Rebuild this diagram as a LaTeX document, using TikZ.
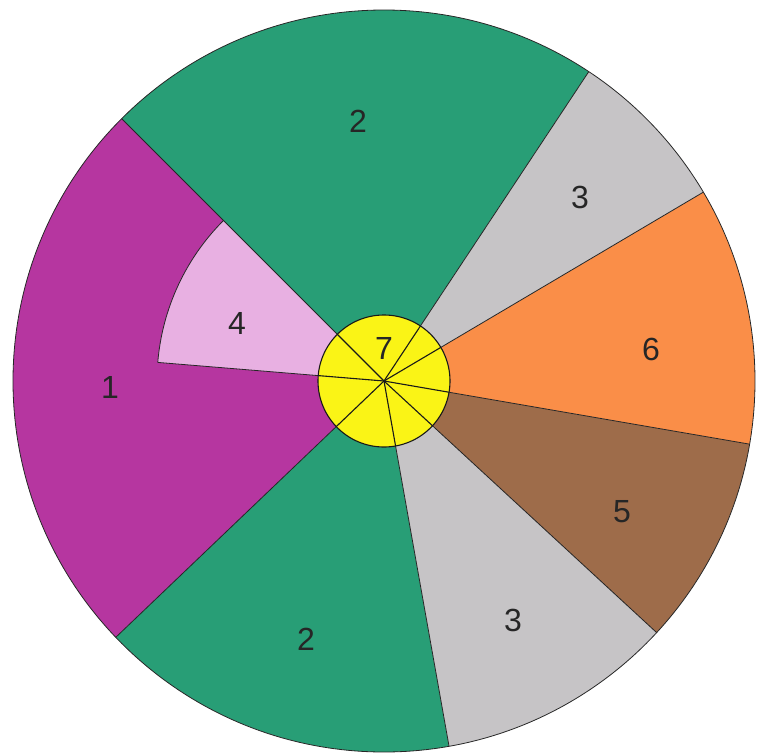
\documentclass[tikz,border=0pt]{standalone}
\usepackage{fontspec}
\setmainfont{Liberation Sans}
\usepackage{tikz}
\usetikzlibrary{positioning, calc}

\definecolor{pieviolet}{RGB}{182,54,160}
\definecolor{piegreen}{RGB}{40,158,118}
\definecolor{piegray}{RGB}{198,196,198}
\definecolor{pieorange}{RGB}{250,142,72}
\definecolor{piebrown}{RGB}{158,108,74}
\definecolor{piepink}{RGB}{232,176,226}
\definecolor{pieyellow}{RGB}{250,244,22}

\begin{document}
\begin{tikzpicture}[x=1pt, y=1pt,
    edge/.style={draw=black!85, line width=0.8pt},
    hubedge/.style={draw=black!90, line width=1.1pt},
    digit/.style={font=\fontsize{32}{32}\selectfont, text=black!85, inner sep=0pt}]
    % Frame of the picture
    \useasboundingbox (-384,-372) rectangle (375,381);
    \coordinate (c) at (0,0);

    % Sectors: start angle / end angle / colour
    \foreach \a/\b/\col in {56.5/135/piegreen, 135/223.7/pieviolet,
        223.7/280.1/piegreen, 280.1/317.3/piegray, 317.3/350.2/piebrown,
        350.2/390.6/pieorange, 30.6/56.5/piegray}
        \fill[\col] (c) -- (\a:371) arc[start angle=\a, end angle=\b, radius=371] -- cycle;

    % Inner sector 4
    \fill[piepink] (c) -- (135:227) arc[start angle=135, end angle=175.3, radius=227] -- cycle;
    \draw[edge] (175.3:227) arc[start angle=175.3, end angle=135, radius=227];
    \draw[edge] (c) -- (175.3:227);

    % Spokes and rim
    \foreach \a in {56.5, 135, 223.7, 280.1, 317.3, 350.2, 30.6}
        \draw[edge] (c) -- (\a:371);
    \draw[edge] (c) circle (371);

    % Hub 7
    \fill[pieyellow] (c) circle (66);
    \foreach \a in {56.5, 135, 175.3, 223.7, 280.1, 317.3, 350.2, 30.6}
        \draw[hubedge] (c) -- (\a:66);
    \draw[hubedge] (c) circle (66);

    % Labels
    \node[digit] (topgreen) at (-26,260) {2};
    \node[digit] (topgray) at (196,184) {3};
    \node[digit] (orange) at (267,32) {6};
    \node[digit] (brown) at (238,-131) {5};
    \node[digit] (botgray) at (129,-239) {3};
    \node[digit] (botgreen) at (-78,-258) {2};
    \node[digit] (violet) at (-274,-6) {1};
    \node[digit] (pink) at (-147,58) {4};
    \node[digit] (hub) at (0,33) {7};
\end{tikzpicture}
\end{document}
